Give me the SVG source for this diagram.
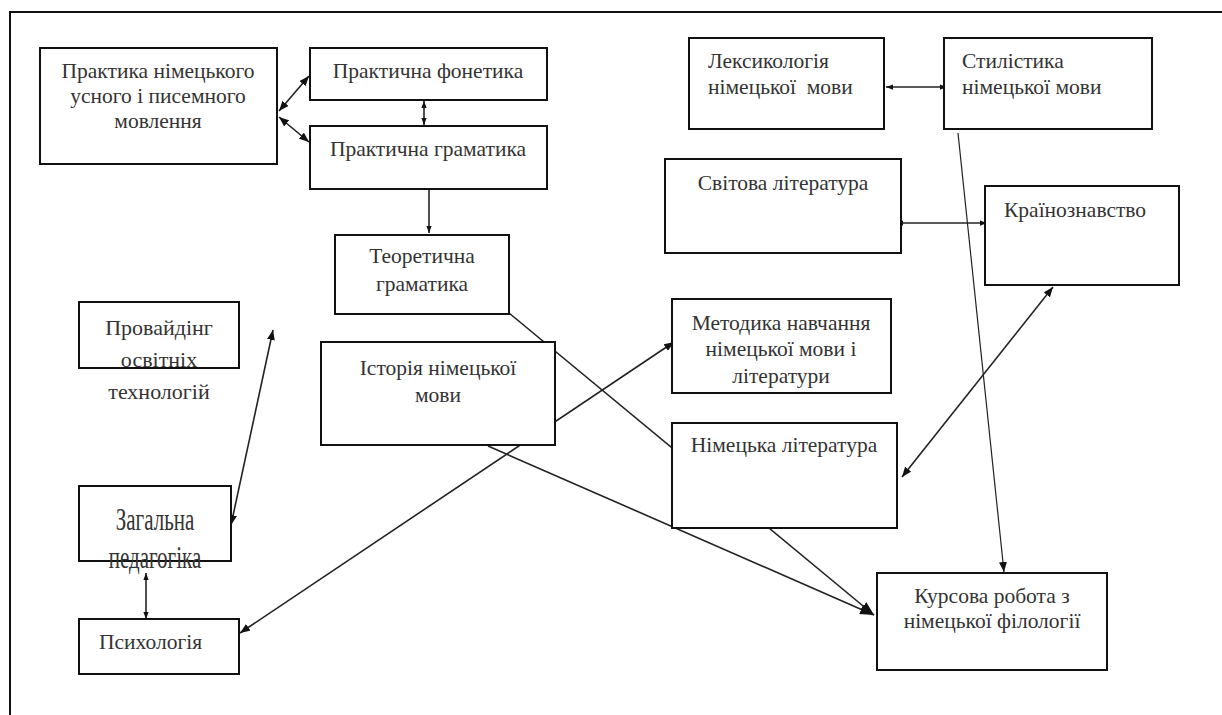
<svg xmlns="http://www.w3.org/2000/svg" width="1222" height="715" viewBox="0 0 1222 715">
<style>
.box{fill:#fff;stroke:#111;stroke-width:2}
.t{font-family:"Liberation Serif","Times New Roman",serif;font-size:21.5px;fill:#333}
.c{text-anchor:middle}
.big{font-size:22px}
.zg{font-size:21px}
.ln{stroke:#222;stroke-width:1.6;fill:none}
.thin{stroke:#222;stroke-width:1.2;fill:none}
</style>
<defs>
<marker id="a" viewBox="0 0 10 8" markerUnits="userSpaceOnUse" markerWidth="10" markerHeight="8" refX="10" refY="4" orient="auto-start-reverse"><path d="M0,0 L10,4 L0,8 z" fill="#111"/></marker>
<marker id="s" viewBox="0 0 8 6" markerUnits="userSpaceOnUse" markerWidth="7" markerHeight="6" refX="8" refY="3" orient="auto-start-reverse"><path d="M0,0 L8,3 L0,6 z" fill="#111"/></marker>
<marker id="b" viewBox="0 0 14 10" markerUnits="userSpaceOnUse" markerWidth="14" markerHeight="10" refX="14" refY="5" orient="auto"><path d="M0,0 L14,5 L0,10 z" fill="#111"/></marker>
</defs>
<path d="M10,715 V12 H1222" fill="none" stroke="#111" stroke-width="2"/>
<g id="connectors">
<line class="ln" x1="279" y1="111" x2="309" y2="76" marker-start="url(#a)" marker-end="url(#a)"/>
<line class="ln" x1="279" y1="117" x2="309" y2="142" marker-start="url(#a)" marker-end="url(#a)"/>
<line class="ln" x1="424" y1="101" x2="424" y2="125" marker-start="url(#s)" marker-end="url(#s)"/>
<line class="ln" x1="429" y1="186" x2="429" y2="233" marker-end="url(#s)"/>
<line class="ln" x1="886" y1="87" x2="947" y2="87" marker-start="url(#s)" marker-end="url(#s)"/>
<line class="ln" x1="896" y1="223" x2="987" y2="223" marker-start="url(#s)" marker-end="url(#s)"/>
<line class="thin" x1="958" y1="133" x2="1004" y2="572" marker-end="url(#a)"/>
<line class="ln" x1="1053" y1="287" x2="902" y2="477" marker-start="url(#a)" marker-end="url(#a)"/>
<line class="ln" x1="509" y1="313" x2="874" y2="615" marker-end="url(#b)"/>
<line class="ln" x1="488" y1="446" x2="874" y2="615" marker-end="url(#b)"/>
<line class="ln" x1="674" y1="342" x2="240" y2="633" marker-start="url(#a)" marker-end="url(#a)"/>
<line class="ln" x1="273" y1="330" x2="231" y2="525" marker-start="url(#a)" marker-end="url(#a)"/>
<line class="ln" x1="146" y1="573" x2="146" y2="619" marker-start="url(#s)" marker-end="url(#s)"/>
</g>
<g id="n-praktyka">
<rect class="box" x="40" y="48" width="237" height="116"/>
<text class="t c" x="158" y="78">Практика німецького</text>
<text class="t c" x="158" y="103">усного і писемного</text>
<text class="t c" x="158" y="128">мовлення</text>
</g>
<g id="n-fonetyka">
<rect class="box" x="310" y="48" width="237" height="52"/>
<text class="t c" x="428" y="78">Практична фонетика</text>
</g>
<g id="n-hramatyka">
<rect class="box" x="310" y="126" width="237" height="63"/>
<text class="t c" x="428" y="156">Практична граматика</text>
</g>
<g id="n-teoretychna">
<rect class="box" x="335" y="235" width="174" height="79"/>
<text class="t c" x="422" y="263">Теоретична</text>
<text class="t c" x="422" y="291">граматика</text>
</g>
<g id="n-providing">
<rect class="box" x="79" y="302" width="160" height="66"/>
<text class="t c big" x="159" y="335">Провайдінг</text>
<text class="t c big" x="159" y="367">освітніх</text>
<text class="t c big" x="159" y="399">технологій</text>
</g>
<g id="n-istoriia">
<rect class="box" x="321" y="342" width="234" height="103"/>
<text class="t c" x="438" y="375">Історія німецької</text>
<text class="t c" x="438" y="402">мови</text>
</g>
<g id="n-zahalna">
<rect class="box" x="79" y="486" width="152" height="75"/>
<text class="t c zg" transform="translate(155,530) scale(1,1.5)">Загальна</text>
<text class="t c zg" transform="translate(155,568) scale(1,1.5)">педагогіка</text>
</g>
<g id="n-psykholohiia">
<rect class="box" x="79" y="619" width="160" height="55"/>
<text class="t" x="99" y="649">Психологія</text>
</g>
<g id="n-leksykolohiia">
<rect class="box" x="689" y="38" width="195" height="91"/>
<text class="t" x="708" y="68">Лексикологія</text>
<text class="t" x="708" y="94" xml:space="preserve">німецької  мови</text>
</g>
<g id="n-stylistyka">
<rect class="box" x="944" y="38" width="208" height="91"/>
<text class="t" x="962" y="68">Стилістика</text>
<text class="t" x="962" y="94">німецької мови</text>
</g>
<g id="n-svitova">
<rect class="box" x="665" y="159" width="236" height="94"/>
<text class="t c" x="783" y="190">Світова література</text>
</g>
<g id="n-krainoznavstvo">
<rect class="box" x="985" y="186" width="194" height="99"/>
<text class="t" x="1004" y="217">Країнознавство</text>
</g>
<g id="n-metodyka">
<rect class="box" x="672" y="299" width="219" height="94"/>
<text class="t c" x="781" y="330">Методика навчання</text>
<text class="t c" x="781" y="356">німецької мови і</text>
<text class="t c" x="781" y="383">літератури</text>
</g>
<g id="n-nimetska-lit">
<rect class="box" x="672" y="423" width="225" height="105"/>
<text class="t c" x="784" y="452">Німецька література</text>
</g>
<g id="n-kursova">
<rect class="box" x="877" y="573" width="230" height="97"/>
<text class="t c" x="992" y="603">Курсова робота з</text>
<text class="t c" x="992" y="628">німецької філології</text>
</g>
</svg>
